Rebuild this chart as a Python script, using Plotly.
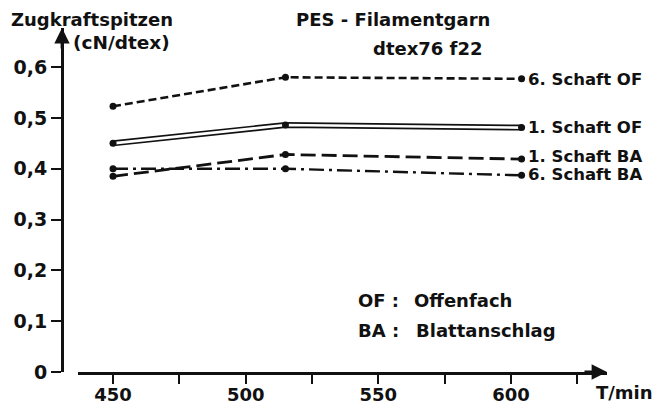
import plotly.graph_objects as go

# --- data -------------------------------------------------------------
speeds = [450, 515, 604]                 # T/min
six_of = [0.523, 0.580, 0.577]           # 6. Schaft OF
one_of = [0.450, 0.486, 0.481]           # 1. Schaft OF
one_ba = [0.385, 0.428, 0.419]           # 1. Schaft BA
six_ba = [0.400, 0.400, 0.387]           # 6. Schaft BA
series_labels = ["6. Schaft OF", "1. Schaft OF", "1. Schaft BA", "6. Schaft BA"]

x_tickvals = [450, 475, 500, 525, 550, 575, 600, 625]
x_ticktext = ["450", "", "500", "", "550", "", "600", ""]
y_tickvals = [0, 0.1, 0.2, 0.3, 0.4, 0.5, 0.6]
y_ticktext = ["0", "0,1", "0,2", "0,3", "0,4", "0,5", "0,6"]

FONT = "DejaVu Sans"
BLACK = "#111111"

fig = go.Figure()

# 6. Schaft OF - short dashes
fig.add_trace(go.Scatter(x=speeds, y=six_of, mode="lines+markers",
                         line=dict(color=BLACK, width=2.6, dash="8px,4px"),
                         marker=dict(color=BLACK, size=7)))
# 1. Schaft OF - hollow double line
fig.add_trace(go.Scatter(x=speeds, y=one_of, mode="lines",
                         line=dict(color=BLACK, width=6)))
fig.add_trace(go.Scatter(x=speeds, y=one_of, mode="lines+markers",
                         line=dict(color="white", width=2.6),
                         marker=dict(color=BLACK, size=7)))
# 1. Schaft BA - long dashes
fig.add_trace(go.Scatter(x=speeds, y=one_ba, mode="lines+markers",
                         line=dict(color=BLACK, width=2.8, dash="15px,6px"),
                         marker=dict(color=BLACK, size=7)))
# 6. Schaft BA - dash-dot
fig.add_trace(go.Scatter(x=speeds, y=six_ba, mode="lines+markers",
                         line=dict(color=BLACK, width=2.4, dash="15px,5px,3px,5px"),
                         marker=dict(color=BLACK, size=7)))

bold = dict(family=FONT, color=BLACK, weight="bold")

annotations = []
label_yshift = [-1, 0, 3, 1]
for lab, ys, dy in zip(series_labels, [six_of, one_of, one_ba, six_ba], label_yshift):
    annotations.append(dict(x=speeds[-1], y=ys[-1], xref="x", yref="y",
                            text=lab, showarrow=False, xanchor="left",
                            yanchor="middle", xshift=4, yshift=dy,
                            font=dict(size=16.5, **bold)))

def pa(text, x, y, size, anchor="left"):
    annotations.append(dict(x=x, y=y, xref="paper", yref="paper", text=text,
                            showarrow=False, xanchor=anchor, yanchor="middle",
                            font=dict(size=size, **bold)))

pa("Zugkraftspitzen", -0.097, 1.026, 18)
pa("(cN/dtex)", 0.017, 0.957, 18.5)
pa("PES - Filamentgarn", 0.426, 1.026, 18)
pa("dtex76 f22", 0.567, 0.94, 18)
pa("OF :", 0.540, 0.209, 18)
pa("Offenfach", 0.643, 0.209, 18)
pa("BA :", 0.540, 0.122, 18)
pa("Blattanschlag", 0.646, 0.122, 18)
pa("T/min", 0.976, -0.061, 18)

# axis arrows
annotations.append(dict(x=0, y=0.677, xref="paper", yref="y", ax=0, ay=22,
                        axref="pixel", ayref="pixel", text="", showarrow=True,
                        arrowhead=2, arrowsize=1.1, arrowwidth=2.8,
                        arrowcolor=BLACK))
annotations.append(dict(x=636.2, y=0, xref="x", yref="y", ax=-24, ay=0,
                        text="", showarrow=True, arrowhead=2, arrowsize=1.1,
                        arrowwidth=2.8, arrowcolor=BLACK))

# page body has an 8px default margin, so the figure is 8px smaller
fig.update_layout(
    width=662, height=398,
    margin=dict(l=54, r=63, t=20, b=34, autoexpand=False),
    paper_bgcolor="white", plot_bgcolor="white",
    showlegend=False,
    annotations=annotations,
    xaxis=dict(domain=[16 / 545, 1], range=[436.8, 636.2],
               tickvals=x_tickvals, ticktext=x_ticktext, automargin=False,
               showline=True, linecolor=BLACK, linewidth=3,
               ticks="outside", ticklen=9, tickwidth=2, tickcolor=BLACK,
               ticklabelstandoff=-5,
               showgrid=False, zeroline=False,
               tickfont=dict(size=18, **bold)),
    yaxis=dict(anchor="free", position=0, range=[0, 0.677], automargin=False,
               tickvals=y_tickvals, ticktext=y_ticktext,
               showline=True, linecolor=BLACK, linewidth=3,
               ticks="outside", ticklen=10, tickwidth=2, tickcolor=BLACK,
               showgrid=False, zeroline=False,
               tickfont=dict(size=19, **bold)),
)

fig.write_html("out.html")
